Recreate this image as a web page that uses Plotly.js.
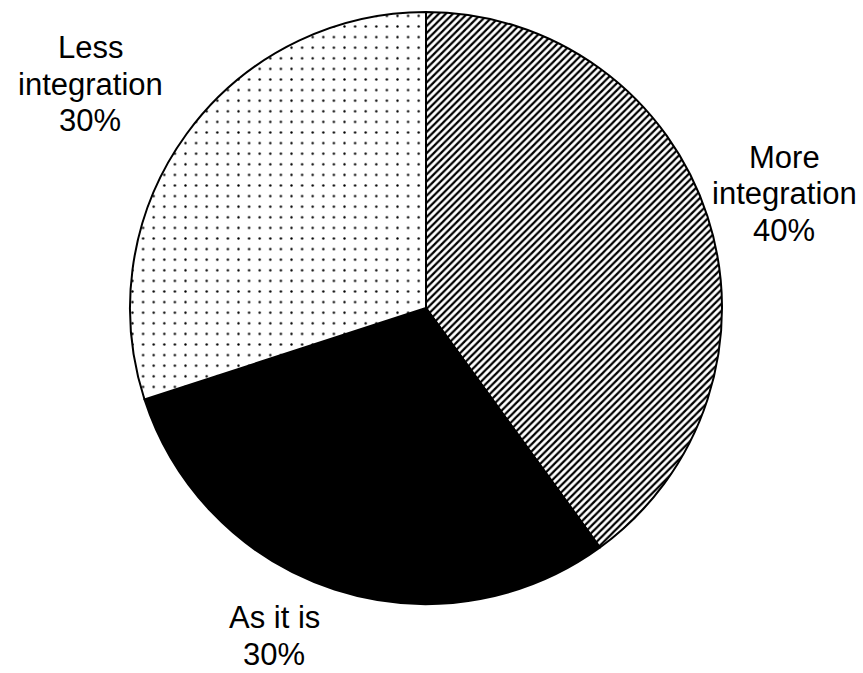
<!DOCTYPE html>
<html>
<head>
<meta charset="utf-8">
<script src="https://cdn.plot.ly/plotly-3.0.1.min.js"></script>
<style>html,body{margin:0;padding:0;background:#fff;}#chart{width:863px;height:673px;}</style>
</head>
<body>
<div id="chart"></div>
<script>
const categories = ['More<br>integration', 'As it is', 'Less<br>integration'];
const values = [40, 30, 30];
const sliceColors = ['white', 'black', 'white'];
const patternShapes = ['/', '', '.'];

// label block placement (pixel centre of the middle of each text block)
const labelPosPx = [[784, 194], [274, 636], [90, 84]];
const LINE_GAP = 36.5;
const W = 863, H = 673;

const total = values.reduce((a, b) => a + b, 0);
const annotations = [];
categories.forEach((cat, i) => {
  const lines = cat.split('<br>').concat([Math.round(values[i] / total * 100) + '%']);
  const n = lines.length;
  lines.forEach((ln, j) => {
    const py = labelPosPx[i][1] + (j - (n - 1) / 2) * LINE_GAP;
    annotations.push({
      xref: 'paper', yref: 'paper',
      x: labelPosPx[i][0] / W, y: 1 - py / H,
      xanchor: 'center', yanchor: 'middle',
      text: ln, showarrow: false,
      font: {family: 'Liberation Sans, Arial, sans-serif', size: 31, color: 'black'}
    });
  });
});

const trace = {
  type: 'pie',
  labels: categories,
  values: values,
  sort: false,
  direction: 'clockwise',
  rotation: 0,
  textinfo: 'none',
  showlegend: false,
  hoverinfo: 'none',
  domain: {x: [130 / W, 722 / W], y: [1 - 604 / H, 1 - 12 / H]},
  marker: {
    colors: sliceColors,
    line: {color: 'black', width: 2},
    pattern: {
      shape: patternShapes,
      fgcolor: 'black',
      bgcolor: sliceColors,
      size: [5, 8, 10.6],
      solidity: [0.45, 0.3, 0.04]
    }
  }
};

Plotly.newPlot('chart', [trace], {
  width: W, height: H,
  margin: {l: 0, r: 0, t: 0, b: 0},
  paper_bgcolor: 'white',
  font: {family: 'Liberation Sans, Arial, sans-serif', color: 'black'},
  annotations: annotations
}, {displayModeBar: false, staticPlot: true});
</script>
</body>
</html>
